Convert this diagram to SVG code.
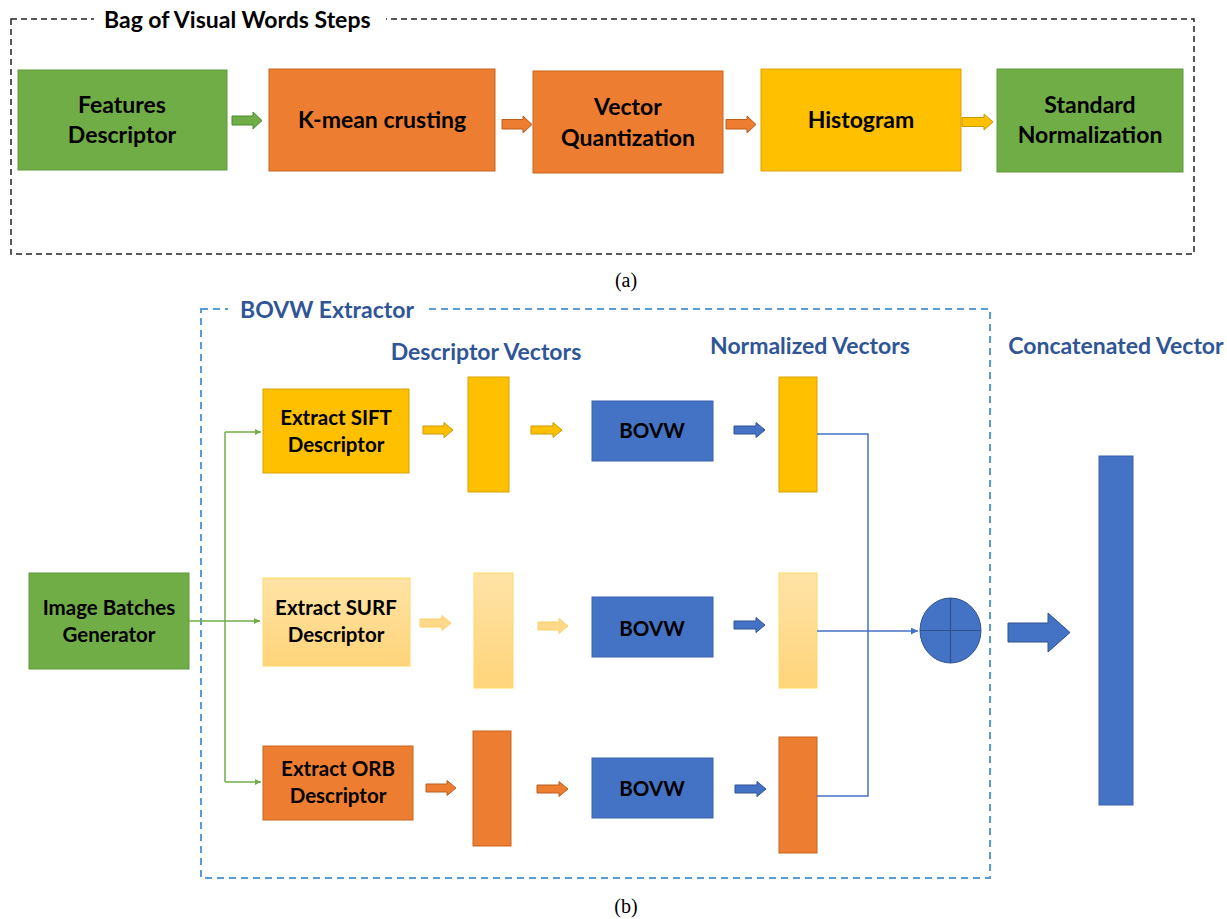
<svg xmlns="http://www.w3.org/2000/svg" width="1227" height="919" viewBox="0 0 1227 919">
<defs>
<style>
.lbl{font-family:Lato,"Liberation Sans",sans-serif;font-weight:bold;fill:#000;text-anchor:middle}
.big{font-size:23px}
.sm{font-size:20.5px}
.ttl{font-family:Lato,"Liberation Sans",sans-serif;font-weight:bold;font-size:23px}
.blue{fill:#2F5597}
.cap{font-family:"Liberation Serif",serif;font-size:20px;fill:#000;text-anchor:middle}
.green{fill:#70AD47;stroke:#5E9A3A;stroke-width:1}
.orange{fill:#ED7D31;stroke:#C9651F;stroke-width:1}
.yellow{fill:#FFC000;stroke:#D9A300;stroke-width:1}
.lyellow{fill:url(#lg);stroke:#FFD966;stroke-width:1}
.bluef{fill:#4472C4;stroke:#3A63AE;stroke-width:1}
.ya{fill:#FFC000;stroke:#C99A00;stroke-width:1}
.oa{fill:#ED7D31;stroke:#B85E20;stroke-width:1}
.ga{fill:#70AD47;stroke:#4E8A2C;stroke-width:1}
.la{fill:#FFD98A;stroke:#FFCF66;stroke-width:1}
.ba{fill:#4472C4;stroke:#2F528F;stroke-width:1}
.gl{fill:none;stroke:#70AD47;stroke-width:1.5}
.bl{fill:none;stroke:#4472C4;stroke-width:1.5}
</style>
<linearGradient id="lg" x1="0" y1="0" x2="0" y2="1">
<stop offset="0" stop-color="#FFE3A6"/>
<stop offset="1" stop-color="#FFD47A"/>
</linearGradient>
<marker id="mg" viewBox="0 0 10 10" refX="10" refY="5" markerWidth="6" markerHeight="6" orient="auto" markerUnits="userSpaceOnUse">
<path d="M0,0 L10,5 L0,10 Z" fill="#70AD47"/>
</marker>
<marker id="mb" viewBox="0 0 10 10" refX="10" refY="5" markerWidth="7" markerHeight="7" orient="auto" markerUnits="userSpaceOnUse">
<path d="M0,0 L10,5 L0,10 Z" fill="#4472C4"/>
</marker>
</defs>
<rect width="1227" height="919" fill="#fff"/>

<!-- Part (a) -->
<g id="frame-a">
<rect x="11" y="19" width="1183" height="235" fill="none" stroke="#222" stroke-width="1.5" stroke-dasharray="6,4"/>
<rect x="94" y="6" width="292" height="28" fill="#fff"/>
<text class="ttl" x="104" y="28" fill="#000">Bag of Visual Words Steps</text>
</g>
<g id="features">
<rect class="green" x="18" y="70" width="209" height="100"/>
<text class="lbl big" x="122" y="113">Features</text>
<text class="lbl big" x="122" y="143">Descriptor</text>
</g>
<g id="kmean">
<rect class="orange" x="269" y="69" width="226" height="102"/>
<text class="lbl big" x="382" y="128">K-mean crusting</text>
</g>
<g id="vq">
<rect class="orange" x="533" y="71" width="190" height="102"/>
<text class="lbl big" x="628" y="115">Vector</text>
<text class="lbl big" x="628" y="146">Quantization</text>
</g>
<g id="histogram">
<rect class="yellow" x="761" y="69" width="200" height="102"/>
<text class="lbl big" x="861" y="128">Histogram</text>
</g>
<g id="stdnorm">
<rect class="green" x="997" y="69" width="186" height="103"/>
<text class="lbl big" x="1090" y="113">Standard</text>
<text class="lbl big" x="1090" y="143">Normalization</text>
</g>
<g id="connectors-a">
<path class="ga" d="M232,116 L253,116 L253,112 L262,120.5 L253,129 L253,125 L232,125 Z"/>
<path class="oa" d="M502,119.5 L523,119.5 L523,116 L532,124.5 L523,133 L523,129 L502,129 Z"/>
<path class="oa" d="M726,119.5 L747,119.5 L747,116 L756,124.5 L747,133 L747,129 L726,129 Z"/>
<path class="ya" d="M962,117.5 L984,117.5 L984,114 L993,122 L984,130 L984,126.5 L962,126.5 Z"/>
</g>
<text class="cap" x="626" y="287">(a)</text>

<!-- Part (b) -->
<g id="frame-b">
<rect x="201" y="309" width="789" height="569" fill="none" stroke="#5B9BD5" stroke-width="2" stroke-dasharray="7,5"/>
<rect x="228" y="294" width="198" height="30" fill="#fff"/>
<text class="ttl blue" x="240" y="318">BOVW Extractor</text>
</g>
<text class="ttl blue" x="486" y="360" text-anchor="middle">Descriptor Vectors</text>
<text class="ttl blue" x="810" y="354" text-anchor="middle">Normalized Vectors</text>
<text class="ttl blue" x="1116" y="354" text-anchor="middle">Concatenated Vector</text>

<g id="image-batches">
<rect class="green" x="29" y="573" width="160" height="96"/>
<text class="lbl sm" x="109" y="615">Image Batches</text>
<text class="lbl sm" x="109" y="642">Generator</text>
</g>
<g id="sift">
<rect class="yellow" x="263" y="389" width="146" height="84" stroke="none"/>
<text class="lbl sm" x="336" y="425">Extract SIFT</text>
<text class="lbl sm" x="336" y="452">Descriptor</text>
</g>
<g id="surf">
<rect class="lyellow" x="263" y="578" width="147" height="88"/>
<text class="lbl sm" x="336" y="615">Extract SURF</text>
<text class="lbl sm" x="336" y="642">Descriptor</text>
</g>
<g id="orb">
<rect class="orange" x="263" y="746" width="150" height="74" stroke="#F4B183"/>
<text class="lbl sm" x="338" y="776">Extract ORB</text>
<text class="lbl sm" x="338" y="803">Descriptor</text>
</g>
<g id="vec-sift"><rect class="yellow" x="468" y="377" width="41" height="115" stroke="#BF9000"/></g>
<g id="vec-surf"><rect class="lyellow" x="474" y="573" width="39" height="115"/></g>
<g id="vec-orb"><rect class="orange" x="473" y="731" width="38" height="115" stroke="#C55A11"/></g>
<g id="bovw1">
<rect class="bluef" x="592" y="401" width="121" height="60"/>
<text class="lbl sm" x="652" y="438">BOVW</text>
</g>
<g id="bovw2">
<rect class="bluef" x="592" y="597" width="121" height="60"/>
<text class="lbl sm" x="652" y="636">BOVW</text>
</g>
<g id="bovw3">
<rect class="bluef" x="592" y="758" width="121" height="60"/>
<text class="lbl sm" x="652" y="796">BOVW</text>
</g>
<g id="norm-sift"><rect class="yellow" x="779" y="377" width="38" height="115" stroke="#BF9000"/></g>
<g id="norm-surf"><rect class="lyellow" x="779" y="573" width="38" height="115"/></g>
<g id="norm-orb"><rect class="orange" x="779" y="737" width="38" height="116" stroke="#C55A11"/></g>
<g id="concat-op">
<ellipse cx="950.5" cy="630.5" rx="30.5" ry="32.5" fill="#4472C4" stroke="#2F528F" stroke-width="1"/>
<line x1="950.5" y1="598" x2="950.5" y2="663" stroke="#2F528F" stroke-width="1.2"/>
<line x1="920" y1="630.5" x2="981" y2="630.5" stroke="#2F528F" stroke-width="1.2"/>
</g>
<g id="concat-vec"><rect class="bluef" x="1099" y="456" width="34" height="349"/></g>

<g id="connectors-b">
<path class="gl" d="M189,621 L260,621" marker-end="url(#mg)"/>
<path class="gl" d="M225,432 L225,782"/>
<path class="gl" d="M225,432 L261,432" marker-end="url(#mg)"/>
<path class="gl" d="M225,782 L261,782" marker-end="url(#mg)"/>
<path class="ya" d="M423,426 L444,426 L444,422.5 L453,430 L444,437.5 L444,434 L423,434 Z"/>
<path class="ya" d="M531,426 L553,426 L553,422.5 L562,430 L553,437.5 L553,434 L531,434 Z"/>
<path class="ba" d="M734,426 L756,426 L756,422.5 L765,430 L756,437.5 L756,434 L734,434 Z"/>
<path class="la" d="M420,619 L442,619 L442,615.5 L451,623 L442,630.5 L442,627 L420,627 Z"/>
<path class="la" d="M538,622 L559,622 L559,618.5 L568,626 L559,633.5 L559,630 L538,630 Z"/>
<path class="ba" d="M734,621 L756,621 L756,617.5 L765,625 L756,632.5 L756,629 L734,629 Z"/>
<path class="oa" d="M426,784 L447,784 L447,780.5 L456,788 L447,795.5 L447,792 L426,792 Z"/>
<path class="oa" d="M537,785 L559,785 L559,781.5 L568,789 L559,796.5 L559,793 L537,793 Z"/>
<path class="ba" d="M735,785 L757,785 L757,781.5 L766,789 L757,796.5 L757,793 L735,793 Z"/>
<path class="bl" d="M817,434 L868,434 L868,796 L817,796"/>
<path class="bl" d="M817,631 L918,631" marker-end="url(#mb)"/>
<path class="ba" d="M1008,623 L1048,623 L1048,613 L1070,632.5 L1048,652 L1048,642 L1008,642 Z"/>
</g>
<text class="cap" x="626" y="913">(b)</text>
</svg>
